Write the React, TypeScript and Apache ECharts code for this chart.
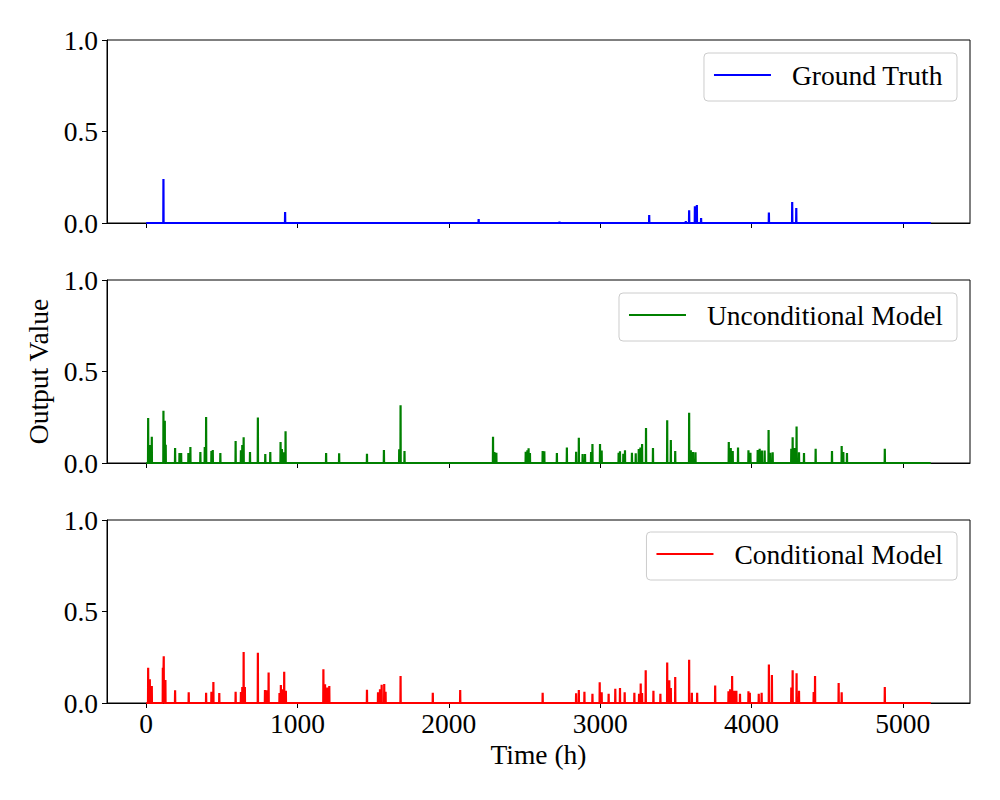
import React, { useEffect, useRef } from "react";
import * as echarts from "echarts";

const T_END = 5185;
const xTicks = [0, 1000, 2000, 3000, 4000, 5000];

const gtTimes = [114, 918, 2197, 2731, 2890, 3324, 3566, 3588, 3626, 3639, 3667, 4115, 4269, 4296];
const gtValues = [0.24, 0.06, 0.022, 0.008, 0.003, 0.044, 0.01, 0.07, 0.091, 0.098, 0.027, 0.057, 0.115, 0.082];

const uncTimes = [13, 25, 37, 114, 123, 129, 191, 220, 231, 279, 292, 358, 387, 396, 431, 440, 490, 591, 626, 635, 644, 686, 738, 787, 820, 888, 897, 910, 921, 1189, 1275, 1459, 1571, 1672, 1681, 1707, 2292, 2301, 2314, 2508, 2519, 2527, 2536, 2620, 2631, 2714, 2780, 2841, 2859, 2884, 2900, 2940, 2949, 2999, 3010, 3122, 3131, 3153, 3164, 3210, 3235, 3255, 3266, 3277, 3303, 3349, 3443, 3467, 3496, 3588, 3599, 3614, 3630, 3850, 3863, 3876, 3911, 3980, 3993, 4041, 4054, 4069, 4087, 4113, 4124, 4140, 4263, 4272, 4283, 4298, 4314, 4347, 4424, 4532, 4596, 4607, 4631, 4881];
const uncValues = [0.246, 0.098, 0.144, 0.286, 0.231, 0.10, 0.082, 0.055, 0.055, 0.055, 0.087, 0.06, 0.087, 0.251, 0.066, 0.071, 0.055, 0.12, 0.07, 0.098, 0.14, 0.06, 0.249, 0.049, 0.06, 0.115, 0.076, 0.058, 0.173, 0.055, 0.053, 0.051, 0.071, 0.075, 0.315, 0.066, 0.144, 0.06, 0.056, 0.062, 0.07, 0.08, 0.055, 0.066, 0.064, 0.055, 0.084, 0.062, 0.138, 0.049, 0.049, 0.06, 0.104, 0.104, 0.068, 0.056, 0.064, 0.051, 0.07, 0.056, 0.053, 0.077, 0.084, 0.104, 0.191, 0.082, 0.233, 0.126, 0.066, 0.275, 0.07, 0.06, 0.058, 0.115, 0.082, 0.066, 0.084, 0.07, 0.056, 0.071, 0.078, 0.068, 0.068, 0.18, 0.056, 0.058, 0.078, 0.14, 0.082, 0.2, 0.058, 0.055, 0.078, 0.066, 0.093, 0.06, 0.055, 0.078];

const condTimes = [13, 24, 37, 110, 116, 127, 191, 281, 396, 431, 444, 483, 591, 626, 635, 644, 652, 738, 785, 796, 809, 881, 890, 901, 912, 923, 1171, 1182, 1197, 1210, 1459, 1532, 1545, 1556, 1573, 1582, 1681, 1894, 2075, 2620, 2841, 2859, 2896, 2949, 2997, 3010, 3056, 3100, 3131, 3162, 3226, 3257, 3268, 3277, 3301, 3352, 3398, 3443, 3457, 3467, 3496, 3588, 3606, 3641, 3760, 3848, 3859, 3872, 3887, 3900, 3924, 3980, 3989, 4048, 4067, 4115, 4135, 4263, 4272, 4298, 4314, 4411, 4420, 4576, 4596, 4881];
const condValues = [0.193, 0.13, 0.093, 0.193, 0.255, 0.126, 0.069, 0.058, 0.056, 0.062, 0.115, 0.055, 0.062, 0.06, 0.087, 0.279, 0.087, 0.275, 0.071, 0.069, 0.166, 0.055, 0.098, 0.075, 0.171, 0.067, 0.184, 0.102, 0.084, 0.093, 0.073, 0.058, 0.075, 0.1, 0.104, 0.062, 0.148, 0.056, 0.071, 0.056, 0.053, 0.071, 0.062, 0.051, 0.113, 0.058, 0.051, 0.078, 0.082, 0.058, 0.056, 0.051, 0.106, 0.055, 0.179, 0.067, 0.051, 0.221, 0.124, 0.082, 0.142, 0.237, 0.056, 0.056, 0.095, 0.064, 0.075, 0.148, 0.067, 0.067, 0.051, 0.064, 0.056, 0.051, 0.056, 0.211, 0.153, 0.084, 0.179, 0.162, 0.067, 0.06, 0.148, 0.109, 0.058, 0.087];

const seriesNames = ["Ground Truth", "Unconditional Model", "Conditional Model"];
const seriesColors = ["#0000ff", "#008000", "#ff0000"];

function buildSeries(times: number[], values: number[]): number[][] {
  const pts: number[][] = [[0, 0]];
  times.forEach((t, i) => {
    pts.push([t - 1, 0], [t, values[i]], [t + 1, 0]);
  });
  pts.push([T_END, 0]);
  return pts;
}

const FONT = "'Liberation Serif', 'Times New Roman', serif";
const FS = 27.5;

export default function App() {
  const ref = useRef<HTMLDivElement>(null);
  useEffect(() => {
    document.body.style.margin = "0";
    const chart = echarts.init(ref.current!, null, { renderer: "svg" });
    const grids = [
      { left: 107, top: 40, width: 863, height: 183 },
      { left: 107, top: 280, width: 863, height: 183 },
      { left: 107, top: 520, width: 863, height: 183 },
    ];
    const legendTops = [53, 293, 532];
    const datas = [
      buildSeries(gtTimes, gtValues),
      buildSeries(uncTimes, uncValues),
      buildSeries(condTimes, condValues),
    ];
    const option: any = {
      animation: false,
      backgroundColor: "#fff",
      grid: grids.map((g) => ({ ...g, show: true, borderColor: "#000", borderWidth: 1, backgroundColor: "transparent" })),
      xAxis: grids.map((_, i) => ({
        type: "value",
        gridIndex: i,
        min: -259,
        max: 5444,
        splitLine: { show: false },
        axisLine: { show: true, onZero: false, lineStyle: { color: "#000", width: 1 } },
        axisTick: { show: true, inside: false, length: 5, lineStyle: { color: "#000" }, customValues: xTicks },
        axisLabel: {
          show: i === 2,
          customValues: xTicks,
          fontFamily: FONT,
          fontSize: FS,
          color: "#000",
          margin: 6,
          formatter: (v: number) => String(v),
        },
        name: i === 2 ? "Time (h)" : "",
        nameLocation: "middle",
        nameGap: 37,
        nameTextStyle: { fontFamily: FONT, fontSize: FS, color: "#000" },
      })),
      yAxis: grids.map((_, i) => ({
        type: "value",
        gridIndex: i,
        min: 0,
        max: 1,
        interval: 0.5,
        splitLine: { show: false },
        axisLine: { show: true, onZero: false, lineStyle: { color: "#000", width: 1 } },
        axisTick: { show: true, inside: false, length: 5, lineStyle: { color: "#000" } },
        axisLabel: {
          fontFamily: FONT,
          fontSize: FS,
          color: "#000",
          margin: 9,
          formatter: (v: number) => v.toFixed(1),
        },
        name: i === 1 ? "Output Value" : "",
        nameLocation: "middle",
        nameGap: 54,
        nameTextStyle: { fontFamily: FONT, fontSize: FS, color: "#000" },
      })),
      legend: seriesNames.map((n, i) => ({
        data: [n],
        right: 43,
        top: legendTops[i],
        orient: "vertical",
        icon: "rect",
        itemWidth: 57,
        itemHeight: 2,
        padding: [8, 14, 12, 10],
        borderColor: "#cccccc",
        borderWidth: 1,
        borderRadius: 4,
        backgroundColor: "rgba(255,255,255,0.8)",
        selectedMode: false,
        textStyle: { fontFamily: FONT, fontSize: FS, color: "#000", padding: [0, 0, 0, 16] },
      })),
      series: seriesNames.map((n, i) => ({
        name: n,
        type: "line",
        xAxisIndex: i,
        yAxisIndex: i,
        data: datas[i],
        showSymbol: false,
        symbol: "none",
        color: seriesColors[i],
        lineStyle: { color: seriesColors[i], width: 2.2 },
        z: 1,
      })),
    };
    chart.setOption(option);
    return () => chart.dispose();
  }, []);
  return <div ref={ref} style={{ width: 1000, height: 800 }} />;
}
